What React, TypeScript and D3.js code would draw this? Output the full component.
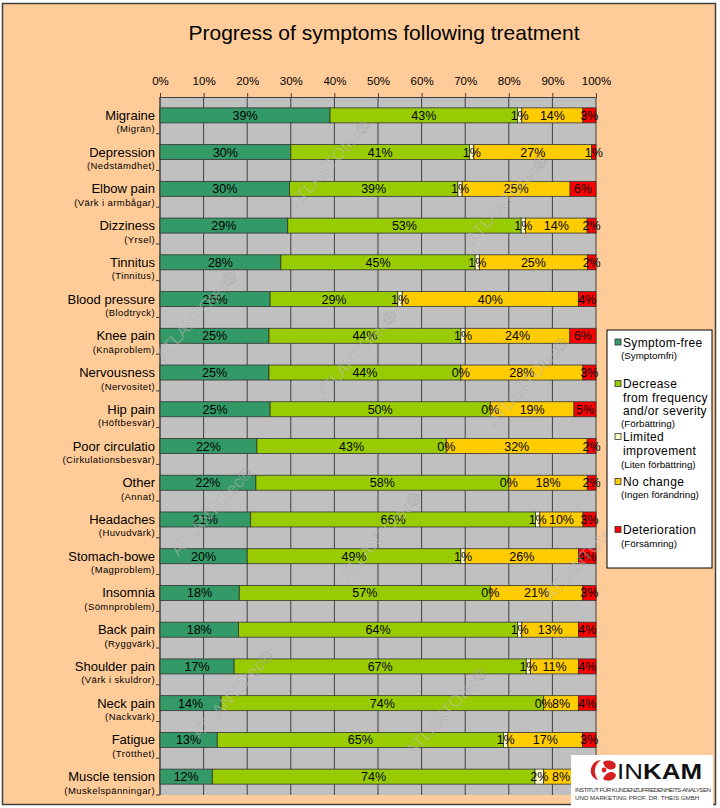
import { useEffect, useRef } from "react";
import * as d3 from "d3";

const CATEGORIES = [
  "Migraine", "Depression", "Elbow pain", "Dizziness", "Tinnitus", "Blood pressure",
  "Knee pain", "Nervousness", "Hip pain", "Poor circulatio", "Other", "Headaches",
  "Stomach-bowe", "Insomnia", "Back pain", "Shoulder pain", "Neck pain", "Fatigue",
  "Muscle tension",
];
const CATEGORIES_SV = [
  "(Migrän)", "(Nedstämdhet)", "(Värk i armbågar)", "(Yrsel)", "(Tinnitus)", "(Blodtryck)",
  "(Knäproblem)", "(Nervositet)", "(Höftbesvär)", "(Cirkulationsbesvär)", "(Annat)", "(Huvudvärk)",
  "(Magproblem)", "(Sömnproblem)", "(Ryggvärk)", "(Värk i skuldror)", "(Nackvärk)", "(Trötthet)",
  "(Muskelspänningar)",
];

const SYMPTOM_FREE = [39, 30, 30, 29, 28, 25, 25, 25, 25, 22, 22, 21, 20, 18, 18, 17, 14, 13, 12];
const DECREASE = [43, 41, 39, 53, 45, 29, 44, 44, 50, 43, 58, 66, 49, 57, 64, 67, 74, 65, 74];
const LIMITED = [1, 1, 1, 1, 1, 1, 1, 0, 0, 0, 0, 1, 1, 0, 1, 1, 0, 1, 2];
const NO_CHANGE = [14, 27, 25, 14, 25, 40, 24, 28, 19, 32, 18, 10, 26, 21, 13, 11, 8, 17, 8];
const DETERIORATION = [3, 1, 6, 2, 2, 4, 6, 3, 5, 2, 2, 3, 4, 3, 4, 4, 4, 3, 4];

const SERIES_KEYS = ["free", "decrease", "limited", "nochange", "worse"];
const SERIES_COLORS = ["#339966", "#99CC00", "#FFFFCC", "#FFCC00", "#FF0000"];
const LEGEND_LINES = [
  { main: ["Symptom-free"], sub: "(Symptomfri)" },
  { main: ["Decrease", "from frequency", "and/or severity"], sub: "(Förbättring)" },
  { main: ["Limited", "improvement"], sub: "(Liten förbättring)" },
  { main: ["No change"], sub: "(Ingen förändring)" },
  { main: ["Deterioration"], sub: "(Försämring)" },
];
const X_TICKS = [0, 0.1, 0.2, 0.3, 0.4, 0.5, 0.6, 0.7, 0.8, 0.9, 1];

// watermark centres (decoration only)
const WATERMARKS: [number, number][] = [
  [330, 165], [507, 200], [197, 316], [357, 355], [528, 382],
  [212, 512], [381, 537], [585, 557], [233, 695], [447, 712],
];

const FONT = "'Liberation Sans', Arial, sans-serif";

export default function App() {
  const svgRef = useRef<SVGSVGElement>(null);

  useEffect(() => {
    if (!svgRef.current) return;
    const svg = d3.select(svgRef.current);
    svg.selectAll("*").remove();

    const left = 160, right = 596, top = 97, bottom = 795;

    // frame
    svg.append("rect").attr("x", 2.5).attr("y", 3.5).attr("width", 713).attr("height", 801)
      .attr("fill", "#FFCC99").attr("stroke", "#404040").attr("stroke-width", 1.5);

    svg.append("text").attr("x", 384).attr("y", 40).attr("text-anchor", "middle")
      .attr("font-family", FONT).attr("font-size", "21px").attr("fill", "#000")
      .text("Progress of symptoms following treatment");

    const rows = CATEGORIES.map((c, i) => ({
      cat: c,
      free: SYMPTOM_FREE[i],
      decrease: DECREASE[i],
      limited: LIMITED[i],
      nochange: NO_CHANGE[i],
      worse: DETERIORATION[i],
    }));
    const stacked = d3.stack<any>().keys(SERIES_KEYS).offset(d3.stackOffsetExpand)(rows);
    const raw = [SYMPTOM_FREE, DECREASE, LIMITED, NO_CHANGE, DETERIORATION];

    const x = d3.scaleLinear().domain([0, 1]).range([left, right]);
    const y = d3.scaleBand().domain(CATEGORIES).range([top, bottom]).padding(0);
    const barH = 15;

    // plot background
    svg.append("rect").attr("x", left).attr("y", top).attr("width", right - left).attr("height", bottom - top)
      .attr("fill", "#C0C0C0");

    // top axis with grid
    const axis = svg.append("g").attr("transform", `translate(0,${top})`)
      .call(d3.axisTop(x).tickValues(X_TICKS).tickSize(4).tickFormat(d3.format(".0%")));
    axis.select(".domain").attr("stroke", "#404040");
    axis.selectAll(".tick line").attr("stroke", "#404040");
    axis.selectAll(".tick text").attr("fill", "#000").attr("font-size", "11.5px")
      .attr("font-family", FONT).attr("dy", "-5px");

    svg.append("g").selectAll("line").data(X_TICKS).join("line")
      .attr("x1", (d) => x(d)).attr("x2", (d) => x(d))
      .attr("y1", top).attr("y2", bottom)
      .attr("stroke", "#404040").attr("stroke-width", 1);

    // left axis
    svg.append("line").attr("x1", left).attr("x2", left).attr("y1", top).attr("y2", bottom)
      .attr("stroke", "#404040");
    svg.append("g").selectAll("line").data(CATEGORIES).join("line")
      .attr("x1", left - 4).attr("x2", left)
      .attr("y1", (d) => y(d)! + y.bandwidth()).attr("y2", (d) => y(d)! + y.bandwidth())
      .attr("stroke", "#404040");

    // category labels
    CATEGORIES.forEach((c, i) => {
      const cy = y(c)! + y.bandwidth() / 2;
      svg.append("text").attr("x", 155).attr("y", cy + 4.5).attr("text-anchor", "end")
        .attr("font-family", FONT).attr("font-size", "13px").attr("fill", "#000").text(c);
      svg.append("text").attr("x", 155).attr("y", cy + 17).attr("text-anchor", "end")
        .attr("font-family", FONT).attr("font-size", "9.5px").attr("letter-spacing", "0.4px")
        .attr("fill", "#000").text(CATEGORIES_SV[i]);
    });

    // bars
    stacked.forEach((layer, si) => {
      const g = svg.append("g");
      g.selectAll("rect").data(layer).join("rect")
        .attr("x", (d) => x(d[0]))
        .attr("y", (d) => y(d.data.cat)! + (y.bandwidth() - barH) / 2)
        .attr("width", (d) => Math.max(0, x(d[1]) - x(d[0])))
        .attr("height", barH)
        .attr("fill", SERIES_COLORS[si])
        .attr("stroke", "#333").attr("stroke-width", 0.8);
    });
    stacked.forEach((layer, si) => {
      svg.append("g").selectAll("text").data(layer).join("text")
        .attr("x", (d) => (x(d[0]) + x(d[1])) / 2)
        .attr("y", (d) => y(d.data.cat)! + y.bandwidth() / 2 + 4.5)
        .attr("text-anchor", "middle")
        .attr("font-family", FONT).attr("font-size", "12.5px").attr("fill", "#000")
        .text((_d, i) => `${raw[si][i]}%`);
    });

    // watermarks
    WATERMARKS.forEach(([cx, cy]) => {
      svg.append("text").attr("transform", `translate(${cx},${cy}) rotate(-48)`)
        .attr("text-anchor", "middle").attr("dy", "5px")
        .attr("font-family", FONT).attr("font-size", "17px")
        .attr("fill", "#ffffff").attr("fill-opacity", 0.3)
        .attr("stroke", "#7a7a7a").attr("stroke-opacity", 0.35).attr("stroke-width", 0.6)
        .text("ATLANTOtec®");
    });

    // legend
    svg.append("rect").attr("x", 607).attr("y", 330).attr("width", 105).attr("height", 238)
      .attr("fill", "#fff").attr("stroke", "#000").attr("stroke-width", 1);
    const legendY = [346.5, 388, 441, 486, 534];
    const subY = [359, 427, 468, 497.5, 547];
    LEGEND_LINES.forEach((item, i) => {
      svg.append("rect").attr("x", 615).attr("y", legendY[i] - 7.5).attr("width", 6).attr("height", 6)
        .attr("fill", SERIES_COLORS[i]).attr("stroke", "#333").attr("stroke-width", 0.8);
      item.main.forEach((line, j) => {
        svg.append("text").attr("x", 623).attr("y", legendY[i] + j * 13.5)
          .attr("font-family", FONT).attr("font-size", "12px").attr("letter-spacing", "0.35px")
          .attr("fill", "#000").text(line);
      });
      svg.append("text").attr("x", 621).attr("y", subY[i])
        .attr("font-family", FONT).attr("font-size", "9.8px")
        .attr("fill", "#000").text(item.sub);
    });

    // INKAM logo
    const logo = svg.append("g");
    logo.append("rect").attr("x", 571).attr("y", 755).attr("width", 142).attr("height", 53).attr("fill", "#fff");
    logo.append("path")
      .attr("d", "M601,760 C589,761 587,777 598,780 C593,773 594,765 601,760 Z")
      .attr("fill", "#d42020");
    logo.append("path")
      .attr("d", "M603,762 C611,758 618,763 615,768 C611,771 605,770 603,762 Z")
      .attr("fill", "#d42020");
    logo.append("path")
      .attr("d", "M603,779 C606,771 614,770 616,775 C615,781 607,782 603,779 Z")
      .attr("fill", "#d42020");
    logo.append("circle").attr("cx", 604).attr("cy", 770).attr("r", 2.4).attr("fill", "#d42020");
    const brand = logo.append("text").attr("x", 617).attr("y", 778.5)
      .attr("font-family", FONT).attr("font-size", "22.5px").attr("fill", "#111")
      .attr("textLength", 85).attr("lengthAdjust", "spacingAndGlyphs");
    brand.append("tspan").attr("font-weight", "normal").text("IN");
    brand.append("tspan").attr("font-weight", "bold").text("KAM");
    logo.append("text").attr("x", 575).attr("y", 792).attr("font-family", FONT)
      .attr("font-size", "6.2px").attr("fill", "#333").attr("textLength", 136)
      .text("INSTITUT FÜR KUNDENZUFRIEDENHEITS-ANALYSEN");
    logo.append("text").attr("x", 575).attr("y", 799.5).attr("font-family", FONT)
      .attr("font-size", "6.2px").attr("fill", "#333")
      .text("UND MARKETING PROF. DR. THEIS GMBH");
  }, []);

  return (
    <svg
      ref={svgRef}
      width={720}
      height={808}
      style={{ position: "absolute", left: 0, top: 0, background: "#fff" }}
    />
  );
}
